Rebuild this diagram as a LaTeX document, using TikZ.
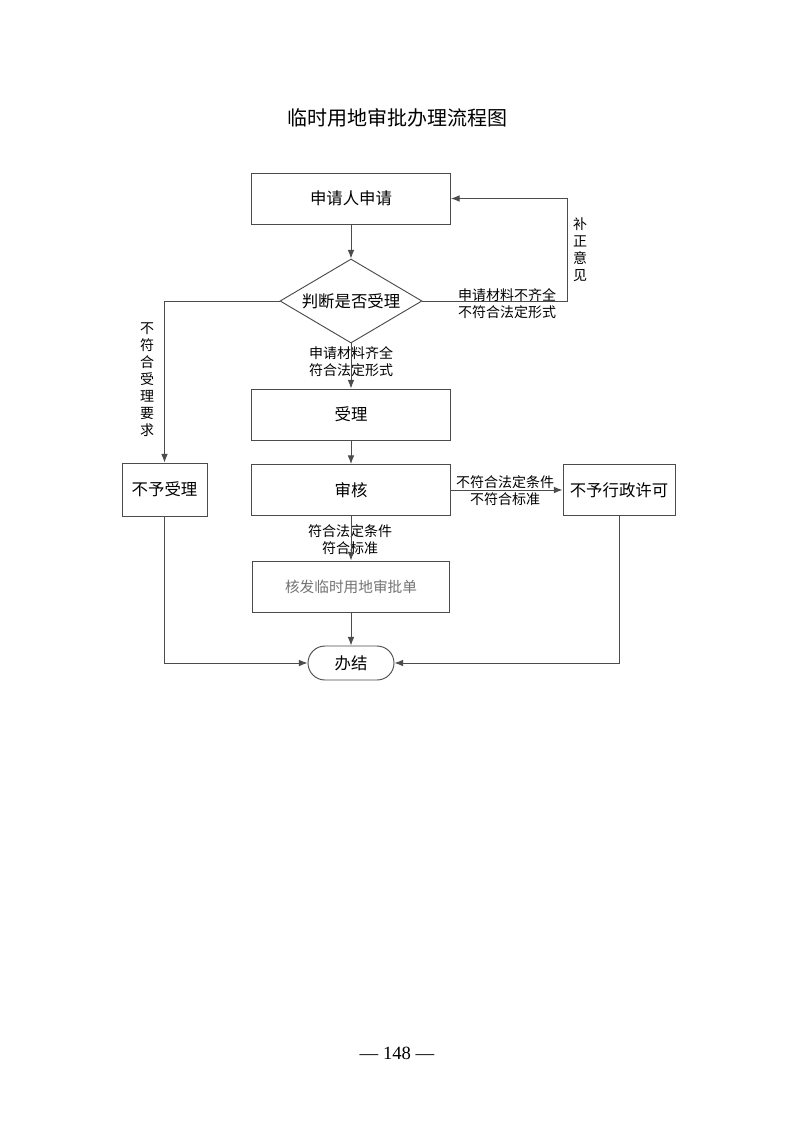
\documentclass[tikz,border=0pt]{standalone}
\usepackage{fontspec}
\setmainfont{Liberation Serif}
\newfontfamily\cjk{Noto Sans CJK SC}
\usetikzlibrary{arrows.meta,shapes.geometric}

\begin{document}
\begin{tikzpicture}[x=0.75pt,y=-0.75pt,
    box/.style={draw=black!70, line width=0.7pt, inner sep=0pt,
      font=\cjk\fontsize{12.3}{14}\selectfont,
      minimum width=149.25pt, minimum height=38.25pt},
    decide/.style={draw=black!70, line width=0.7pt, diamond, aspect=1.69, inner sep=0pt,
      font=\cjk\fontsize{12.3}{14}\selectfont,
      minimum width=106.5pt, minimum height=63pt},
    lbl/.style={font=\cjk\fontsize{10.5}{12.75}\selectfont, align=center, inner sep=0pt},
    arr/.style={draw=black!70, line width=0.7pt, -{Latex[length=6.5pt,width=5pt]}}]

    \fill[white] (0,0) rectangle (793,1122);
    \useasboundingbox (0,0) rectangle (793,1122);

    \node[font=\cjk\fontsize{15}{18}\selectfont] (title) at (397,118) {临时用地审批办理流程图};

    % boxes
    \node[box] (apply) at (351,198.5) {申请人申请};
    \node[decide] (judge) at (351,301) {判断是否受理};
    \node[box] (shouli) at (351,414.5) {受理};
    \node[box] (shenhe) at (351,490) {审核};
    \node[box, minimum width=63.75pt, minimum height=39.75pt] (bysl) at (164.5,489.5) {不予受理};
    \node[box, minimum width=84pt] (byxk) at (619,490) {不予行政许可};
    \node[box, minimum width=147.75pt, text=black!55,
      font=\cjk\fontsize{11}{13}\selectfont] (hefa) at (351,586.5) {核发临时用地审批单};
    \node[box, rounded corners=12.75pt, minimum width=64.5pt, minimum height=25.5pt] (banjie) at (351,663) {办结};

    % labels
    \node[lbl] (bqq) at (507,303.5) {申请材料不齐全\\不符合法定形式};
    \node[lbl] (bzyj) at (580,249.5) {补\\正\\意\\见};
    \node[lbl] (bfhsl) at (147,379.5) {不\\符\\合\\受\\理\\要\\求};
    \node[lbl] (qq) at (351,362) {申请材料齐全\\符合法定形式};
    \node[lbl] (bfhtj) at (505,490.5) {不符合法定条件\\不符合标准};
    \node[lbl] (fhtj) at (350,539.5) {符合法定条件\\符合标准};

    % connectors
    \coordinate (fbk) at (567,250);
    \draw[arr] (apply) -- (judge);
    \draw[arr] (judge.east) -- (judge.east -| fbk) -- (apply.east -| fbk) -- (apply.east);
    \draw[arr] (judge.west) -| (bysl.north);
    \draw[arr] (judge) -- (shouli);
    \draw[arr] (shouli) -- (shenhe);
    \draw[arr] (shenhe) -- (byxk);
    \draw[arr] (shenhe) -- (hefa);
    \draw[arr] (hefa) -- (banjie);
    \draw[arr] (bysl.south) |- (banjie.west);
    \draw[arr] (byxk.south) |- (banjie.east);

    \node[font=\fontsize{14}{16}\selectfont] (page) at (397,1053) {— 148 —};

\end{tikzpicture}
\end{document}
